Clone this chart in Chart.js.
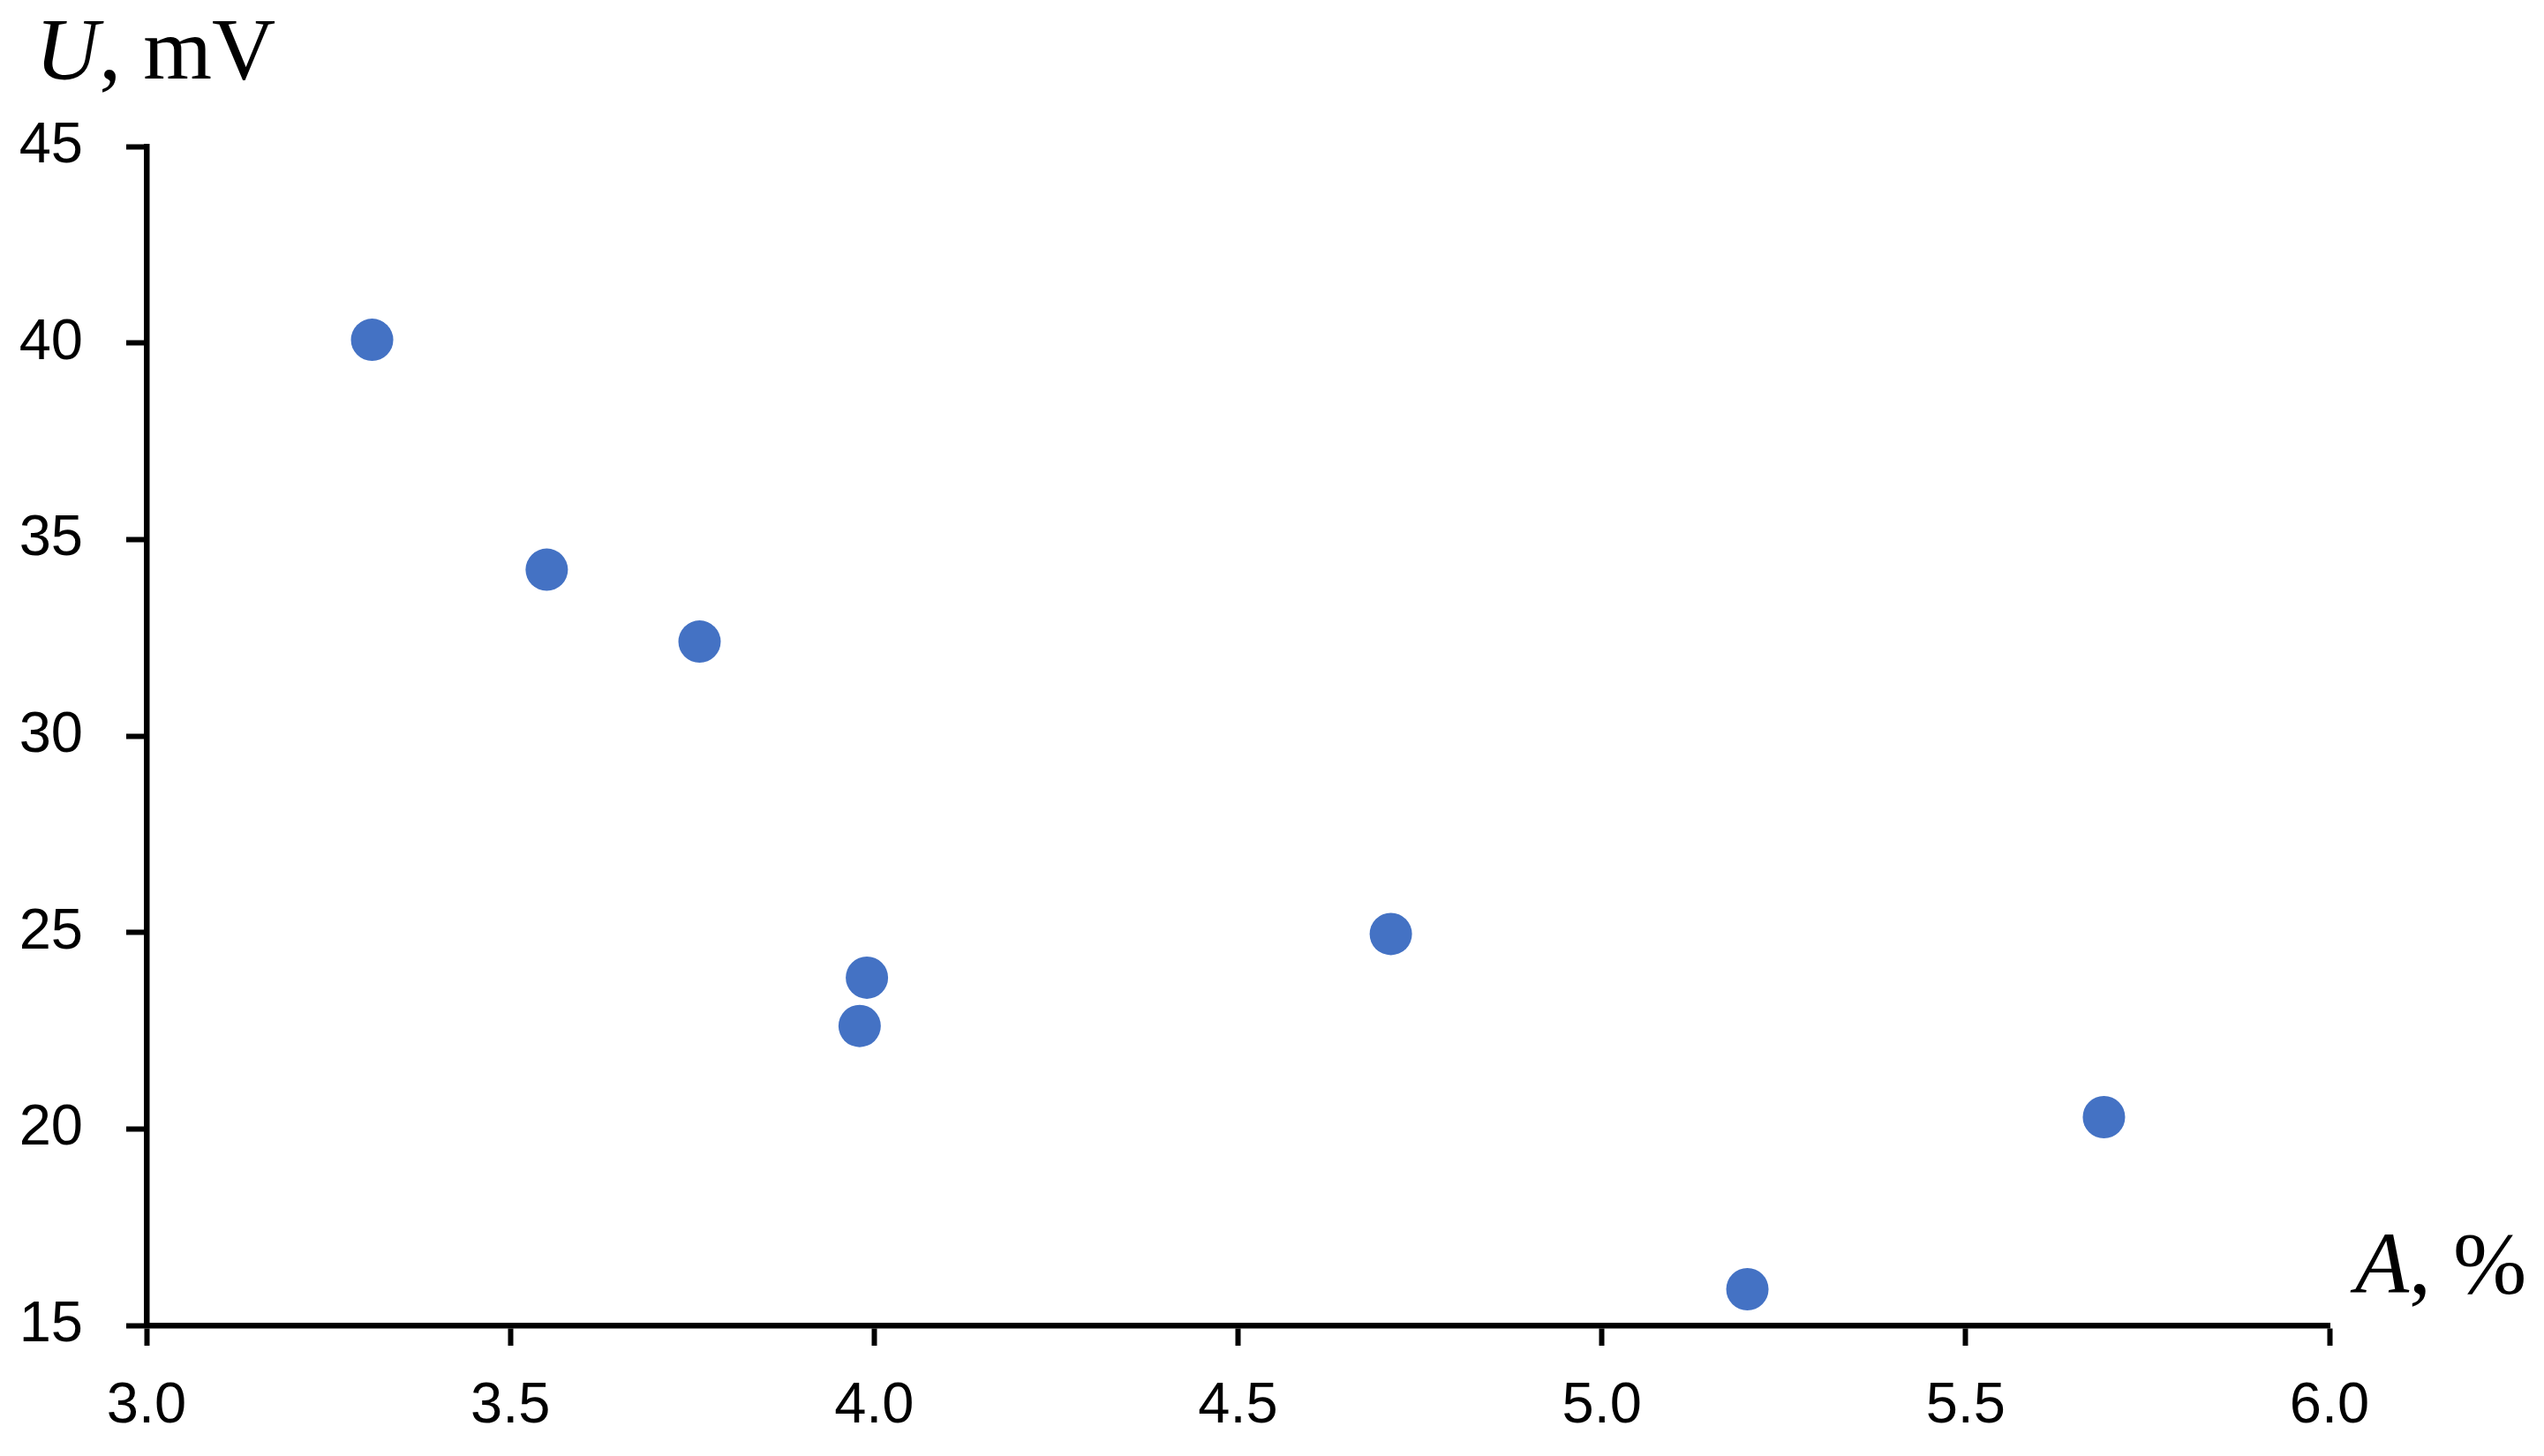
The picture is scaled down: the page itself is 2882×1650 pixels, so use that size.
<!DOCTYPE html>
<html>
<head>
<meta charset="utf-8">
<script src="https://cdn.jsdelivr.net/npm/chart.js@4/dist/chart.umd.min.js"></script>
<style>
    html, body { margin: 0; padding: 0; background: #ffffff; }
    canvas { display: block; }
</style>
</head>
<body>
<canvas id="myScatter" width="2882" height="1650"></canvas>
<script>
// valores
const aValues = [3.31, 3.55, 3.76, 3.99, 3.98, 4.71, 5.20, 5.69];
const uValues = [40.08, 34.23, 32.40, 23.85, 22.62, 24.96, 15.92, 20.30];
const xTicks = [3.0, 3.5, 4.0, 4.5, 5.0, 5.5, 6.0];
const yTicks = [15, 20, 25, 30, 35, 40, 45];

const pontos = aValues.map((a, i) => ({ x: a, y: uValues[i] }));

// titulos dos eixos nas pontas
const axisLabels = {
    id: 'axisLabels',
    afterDraw(chart) {
        const ctx = chart.ctx;
        ctx.save();
        ctx.fillStyle = '#000000';
        ctx.textBaseline = 'alphabetic';
        ctx.textAlign = 'left';

        let x = 40;
        ctx.font = 'italic 100px "Liberation Serif"';
        ctx.fillText('U', x, 89);
        x += ctx.measureText('U').width;
        ctx.font = '100px "Liberation Serif"';
        ctx.fillText(', mV', x, 89);

        x = 2668;
        ctx.font = 'italic 100px "Liberation Serif"';
        ctx.fillText('A', x, 1465);
        x += ctx.measureText('A').width;
        ctx.font = '100px "Liberation Serif"';
        ctx.fillText(', %', x, 1465);
        ctx.restore();
    }
};

const ctx = document.getElementById('myScatter').getContext('2d');

new Chart(ctx, {
    type: 'scatter',
    data: {
        datasets: [{
            data: pontos,
            backgroundColor: '#4472C4',
            borderColor: '#4472C4',
            borderWidth: 0,
            pointRadius: 24,
            pointHoverRadius: 24
        }]
    },
    options: {
        responsive: false,
        animation: false,
        devicePixelRatio: 1,
        clip: false,
        layout: {
            padding: { left: 0, top: 166, right: 243, bottom: 0 }
        },
        plugins: {
            legend: { display: false },
            tooltip: { enabled: false }
        },
        scales: {
            x: {
                type: 'linear',
                min: 3,
                max: 6,
                afterBuildTicks: (scale) => { scale.ticks = xTicks.map(v => ({ value: v })); },
                afterFit: (scale) => { scale.height = 148; },
                grid: {
                    display: true,
                    drawOnChartArea: false,
                    drawTicks: true,
                    tickLength: 23,
                    tickWidth: 6,
                    tickColor: '#000000'
                },
                border: { display: true, color: '#000000', width: 6.5 },
                ticks: {
                    color: '#000000',
                    padding: 30,
                    maxRotation: 0,
                    font: { family: '"Liberation Sans"', size: 65 },
                    callback: (v) => Number(v).toFixed(1)
                }
            },
            y: {
                type: 'linear',
                min: 15,
                max: 45,
                afterBuildTicks: (scale) => { scale.ticks = yTicks.map(v => ({ value: v })); },
                afterFit: (scale) => { scale.width = 166; },
                grid: {
                    display: true,
                    drawOnChartArea: false,
                    drawTicks: true,
                    tickLength: 23,
                    tickWidth: 6,
                    tickColor: '#000000'
                },
                border: { display: true, color: '#000000', width: 6.5 },
                ticks: {
                    color: '#000000',
                    padding: 49,
                    font: { family: '"Liberation Sans"', size: 65 },
                    callback: (v) => String(v)
                }
            }
        }
    },
    plugins: [axisLabels]
});
</script>
</body>
</html>
